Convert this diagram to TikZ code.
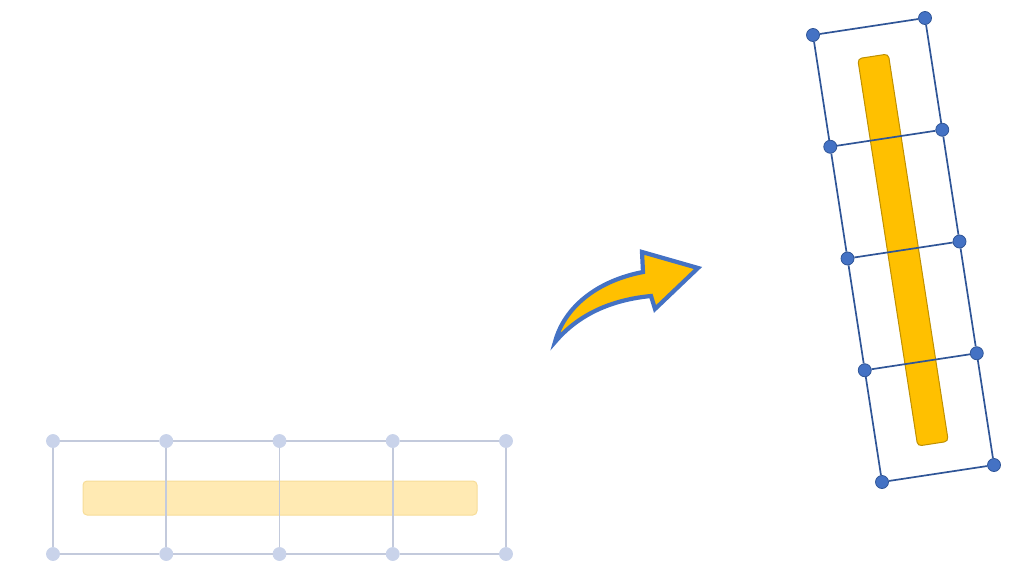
\documentclass[tikz,border=0pt]{standalone}
\usetikzlibrary{calc}
\definecolor{pblue}{HTML}{4472C4}
\definecolor{pdarkblue}{HTML}{2F5597}
\definecolor{pgold}{HTML}{FFC000}
\definecolor{pdarkgold}{HTML}{BF9000}
\definecolor{pfadeblue}{HTML}{C9D3EA}
\definecolor{pfadeline}{HTML}{C3CADC}
\definecolor{pfadegold}{HTML}{FFEAB3}
\definecolor{pfadegoldline}{HTML}{F7DD98}

\begin{document}
\begin{tikzpicture}[x=1pt, y=-1pt,
  dot/.style={circle, inner sep=0pt, minimum size=13pt, line width=0.8pt},
  fadedot/.style={dot, fill=pfadeblue, draw=pfadeblue},
  pindot/.style={dot, fill=pblue, draw=pdarkblue},
  fadeline/.style={draw=pfadeline, line width=1.8pt},
  pinline/.style={draw=pdarkblue, line width=1.7pt},
  bar/.style={rectangle, rounded corners=4pt, minimum width=394pt, minimum height=34pt, line width=1pt}]
 \useasboundingbox (0,0) rectangle (1033,584);
 % flat grid, faded
 \node[bar, fill=pfadegold, draw=pfadegoldline] (flatbar) at (280,498) {};
 \foreach \i in {0,...,4} {
   \node[fadedot] (ft\i) at (53+113.25*\i,441) {};
   \node[fadedot] (fb\i) at (53+113.25*\i,554) {};
   \draw[fadeline] (ft\i) -- (fb\i);}
 \foreach \i [count=\j] in {0,...,3} \draw[fadeline] (ft\i) -- (ft\j) (fb\i) -- (fb\j);
 % turning arrow
 \draw[draw=pblue, fill=pgold, line width=4.2pt, line join=miter]
   (555,342) .. controls (564,308) and (596,281) .. (643,272) -- (642,252) -- (698,268)
   -- (655,309) -- (651,296) .. controls (610,300) and (578,315) .. cycle;
 % tilted grid
 \node[bar, minimum width=392pt, minimum height=31pt, rotate=-81.2, fill=pgold, draw=pdarkgold] (tiltbar) at (903,250) {};
 \foreach \i in {0,...,4} {
   \node[pindot] (tl\i) at (813+17.25*\i,35+111.75*\i) {};
   \node[pindot] (tr\i) at (925+17.25*\i,18+111.75*\i) {};
   \draw[pinline] (tl\i) -- (tr\i);}
 \foreach \i [count=\j] in {0,...,3} \draw[pinline] (tl\i) -- (tl\j) (tr\i) -- (tr\j);
\end{tikzpicture}
\end{document}
